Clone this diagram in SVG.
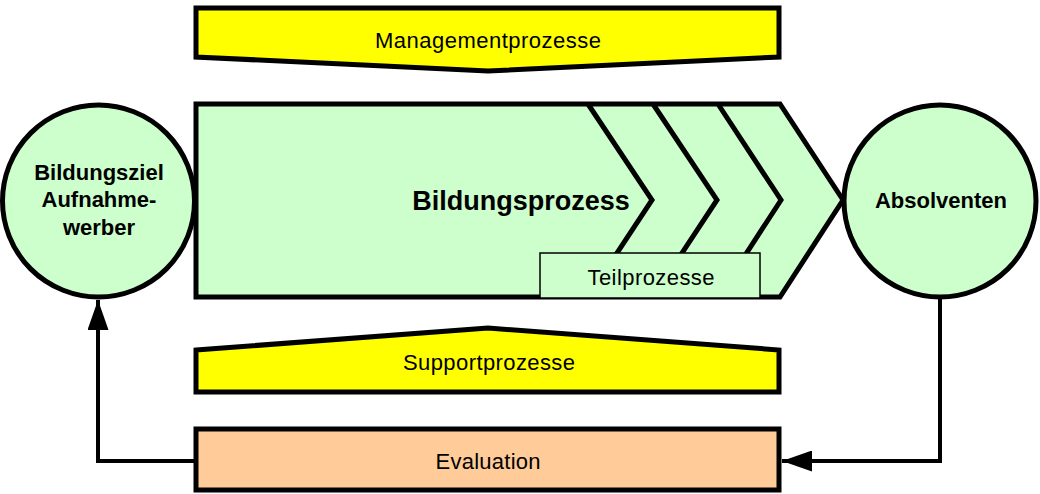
<svg xmlns="http://www.w3.org/2000/svg" width="1040" height="494" viewBox="0 0 1040 494">
  <defs>
    <style>
      .shape { stroke: #000; stroke-width: 5; stroke-linejoin: miter; }
      .yellow { fill: #FFFF00; }
      .green { fill: #CCFFCC; }
      .peach { fill: #FFCC99; }
      .thin { stroke: #000; stroke-width: 1.5; fill: #CCFFCC; }
      .chev { fill: none; stroke: #000; stroke-width: 5; stroke-linejoin: miter; }
      .lbl { font-family: "Liberation Sans", Arial, sans-serif; font-size: 22px; fill: #000; text-anchor: middle; }
      .bold { font-weight: bold; }
      .conn { fill: none; stroke: #000; stroke-width: 4; }
    </style>
    <marker id="arrow" viewBox="0 0 30 21" refX="30" refY="10.5" markerWidth="30" markerHeight="21" markerUnits="userSpaceOnUse" orient="auto">
      <path d="M0,0 L30,10.5 L0,21 Z" fill="#000"/>
    </marker>
  </defs>

  <!-- management processes: downward pointing banner -->
  <g id="management">
    <path class="shape yellow" d="M196,8 L779,8 L779,57 L488,71 L196,57 Z"/>
    <text class="lbl" x="488" y="48" textLength="226">Managementprozesse</text>
  </g>

  <!-- main education process with chevron sub-steps -->
  <g id="bildungsprozess">
    <path class="shape green" d="M196,104 L780,104 L843,200 L780,297 L196,297 Z"/>
    <path class="chev" d="M588,104 L652,200 L588,297"/>
    <path class="chev" d="M653,104 L717,200 L653,297"/>
    <path class="chev" d="M718,104 L781,200 L718,297"/>
    <text class="lbl bold" x="521" y="210" style="font-size:27px">Bildungsprozess</text>
  </g>

  <g id="teilprozesse">
    <rect class="thin" x="540" y="253" width="220" height="45"/>
    <text class="lbl" x="651" y="285" textLength="127">Teilprozesse</text>
  </g>

  <g id="bildungsziel">
    <circle class="shape green" cx="98.5" cy="201" r="96"/>
    <text class="lbl bold" x="99" y="180">Bildungsziel</text>
    <text class="lbl bold" x="99" y="207">Aufnahme-</text>
    <text class="lbl bold" x="99" y="235">werber</text>
  </g>

  <g id="absolventen">
    <circle class="shape green" cx="940" cy="201" r="96"/>
    <text class="lbl bold" x="941" y="208">Absolventen</text>
  </g>

  <!-- support processes: upward pointing banner -->
  <g id="support">
    <path class="shape yellow" d="M196,350 L488,328 L779,350 L779,392 L196,392 Z"/>
    <text class="lbl" x="489" y="370" textLength="172">Supportprozesse</text>
  </g>

  <g id="evaluation">
    <rect class="shape peach" x="196" y="429" width="583" height="61"/>
    <text class="lbl" x="488" y="469" textLength="105">Evaluation</text>
  </g>

  <!-- feedback loop -->
  <g id="connectors">
    <path class="conn" d="M940,297 L940,461 L782,461" marker-end="url(#arrow)"/>
    <path class="conn" d="M196,461 L98,461 L98,300" marker-end="url(#arrow)"/>
  </g>
</svg>
